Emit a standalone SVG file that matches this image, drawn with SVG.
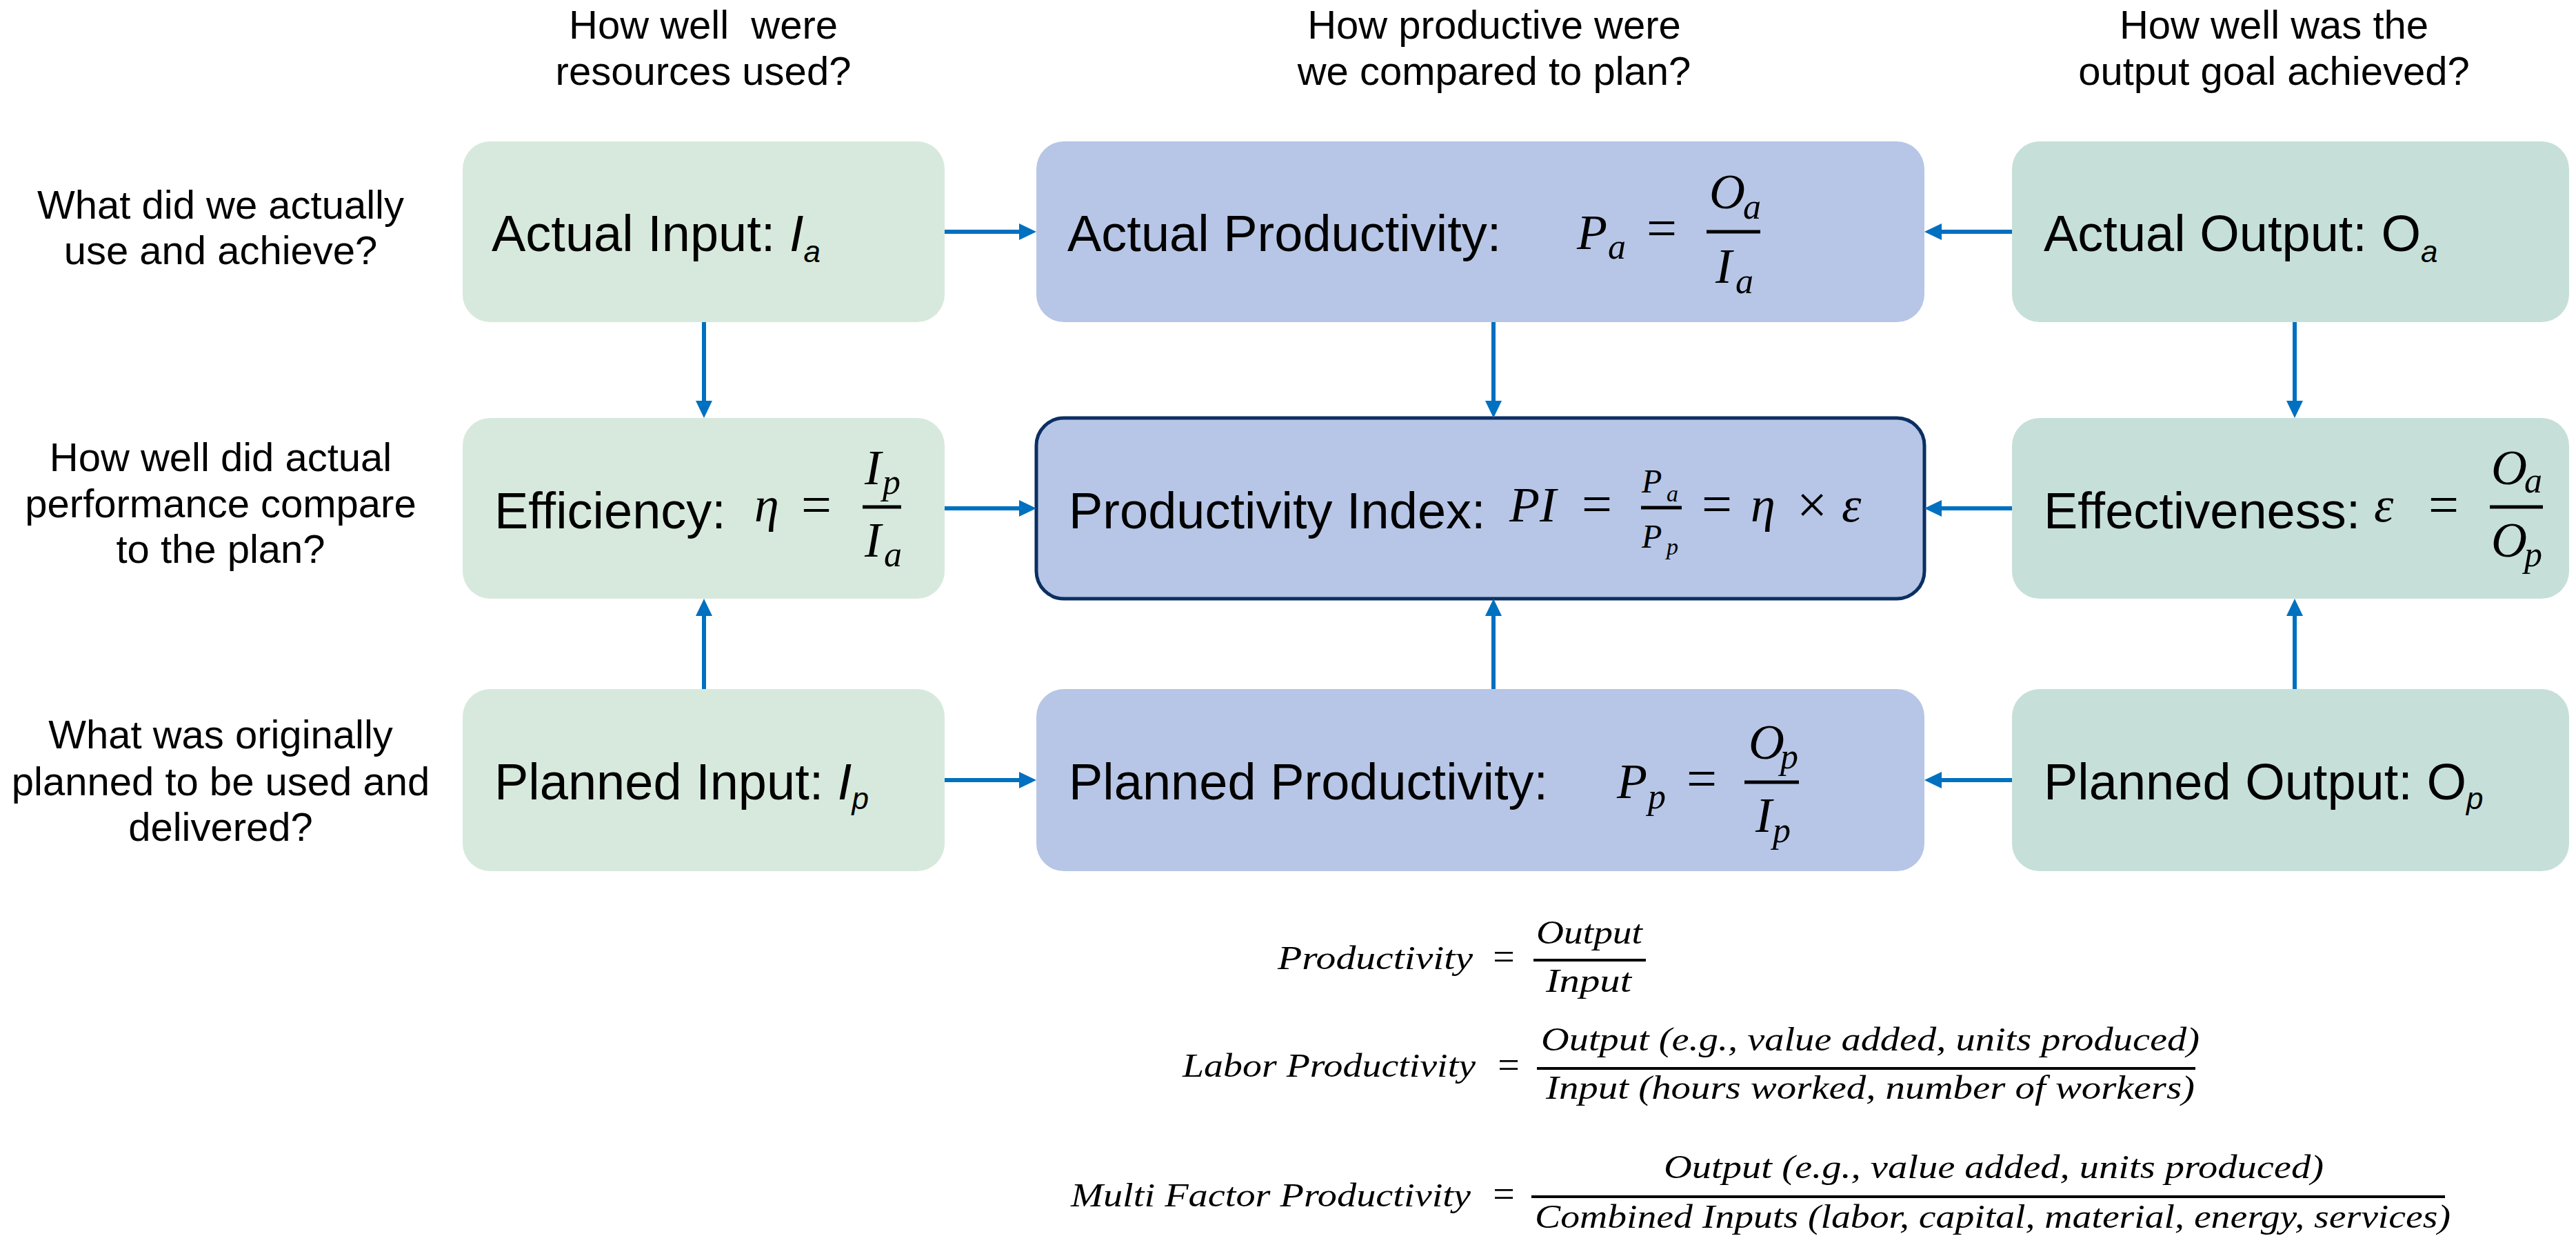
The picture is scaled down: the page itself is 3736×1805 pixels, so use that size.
<svg xmlns="http://www.w3.org/2000/svg" width="3736" height="1805" viewBox="0 0 3736 1805">
<defs>
<marker id="ah" markerUnits="userSpaceOnUse" markerWidth="25" markerHeight="24" refX="17" refY="12" orient="auto">
<path d="M0,0 L25,12 L0,24 Z" fill="#0070C0"/>
</marker>
</defs>
<style>
.bl{fill:#D7E9DD}
.bc{fill:#B7C6E6}
.br{fill:#C6E0D9}
.pi{fill:#B7C6E6;stroke:#0B2F62;stroke-width:5}
.lbl{font-family:"Liberation Sans",Arial,sans-serif;font-size:74px;fill:#000}
.sub{font-size:44px;font-style:italic}
.q{font-family:"Liberation Sans",Arial,sans-serif;font-size:58px;fill:#000;text-anchor:middle}
.m{font-family:"Liberation Serif","Times New Roman",serif;font-style:italic;font-size:72px;fill:#000}
.ms{font-family:"Liberation Serif","Times New Roman",serif;font-style:italic;font-size:52px;fill:#000}
.mf{font-family:"Liberation Serif","Times New Roman",serif;font-style:italic;font-size:48px;fill:#000}
.mfs{font-family:"Liberation Serif","Times New Roman",serif;font-style:italic;font-size:34px;fill:#000}
.eq{font-family:"Liberation Serif","Times New Roman",serif;font-size:78px;fill:#000;text-anchor:middle}
.bar{stroke:#000;stroke-width:5}
.fbar{stroke:#000;stroke-width:4}
.f{font-family:"Liberation Serif","Times New Roman",serif;font-style:italic;font-size:48px;fill:#000}
.feq{font-family:"Liberation Serif","Times New Roman",serif;font-size:56px;fill:#000;text-anchor:middle}
.conn line{stroke:#0070C0;stroke-width:6;marker-end:url(#ah)}
</style>
<rect width="3736" height="1805" fill="#FFFFFF"/>

<g id="headers">
<text class="q" x="1020" y="56" xml:space="preserve">How well  were</text>
<text class="q" x="1020" y="123">resources used?</text>
<text class="q" x="2167" y="56">How productive were</text>
<text class="q" x="2167" y="123">we compared to plan?</text>
<text class="q" x="3298" y="56">How well was the</text>
<text class="q" x="3298" y="123">output goal achieved?</text>
</g>

<g id="row-questions">
<text class="q" x="320" y="317">What did we actually</text>
<text class="q" x="320" y="383">use and achieve?</text>
<text class="q" x="320" y="683">How well did actual</text>
<text class="q" x="320" y="750">performance compare</text>
<text class="q" x="320" y="816">to the plan?</text>
<text class="q" x="320" y="1085">What was originally</text>
<text class="q" x="320" y="1153">planned to be used and</text>
<text class="q" x="320" y="1219">delivered?</text>
</g>

<g id="actual-input">
<rect class="bl" x="671" y="205" width="699" height="262" rx="40"/>
<text class="lbl" x="713" y="364">Actual Input: <tspan font-style="italic">I</tspan><tspan class="sub" dy="16">a</tspan></text>
</g>

<g id="actual-productivity">
<rect class="bc" x="1503" y="205" width="1288" height="262" rx="40"/>
<text class="lbl" x="1548" y="364">Actual Productivity:</text>
<text class="m" x="2287" y="361">P</text>
<text class="ms" x="2332" y="375">a</text>
<text class="eq" x="2410" y="357">=</text>
<line class="bar" x1="2475" y1="336" x2="2553" y2="336"/>
<text class="m" x="2479" y="302">O</text>
<text class="ms" x="2528" y="317">a</text>
<text class="m" x="2488" y="410">I</text>
<text class="ms" x="2517" y="425">a</text>
</g>

<g id="actual-output">
<rect class="br" x="2918" y="205" width="808" height="262" rx="40"/>
<text class="lbl" x="2964" y="364">Actual Output: O<tspan class="sub" dy="16">a</tspan></text>
</g>

<g id="efficiency">
<rect class="bl" x="671" y="606" width="699" height="262" rx="40"/>
<text class="lbl" x="717" y="766">Efficiency:</text>
<text class="m" x="1094" y="756">η</text>
<text class="eq" x="1184" y="758">=</text>
<line class="bar" x1="1251" y1="735" x2="1307" y2="735"/>
<text class="m" x="1254" y="702">I</text>
<text class="ms" x="1280" y="716">p</text>
<text class="m" x="1254" y="807">I</text>
<text class="ms" x="1282" y="821">a</text>
</g>

<g id="productivity-index">
<rect class="pi" x="1503" y="606" width="1288" height="262" rx="40"/>
<text class="lbl" x="1550" y="766">Productivity Index:</text>
<text class="m" x="2189" y="756">PI</text>
<text class="eq" x="2316" y="757">=</text>
<line class="bar" x1="2380" y1="736" x2="2439" y2="736"/>
<text class="mf" x="2381" y="714">P</text>
<text class="mfs" x="2417" y="727">a</text>
<text class="mf" x="2381" y="794">P</text>
<text class="mfs" x="2417" y="804">p</text>
<text class="eq" x="2490" y="757">=</text>
<text class="m" x="2539" y="756">η</text>
<text class="eq" x="2628" y="758">×</text>
<text class="m" x="2671" y="756">ε</text>
</g>

<g id="effectiveness">
<rect class="br" x="2918" y="606" width="808" height="262" rx="40"/>
<text class="lbl" x="2964" y="766">Effectiveness:</text>
<text class="m" x="3443" y="756">ε</text>
<text class="eq" x="3544" y="758">=</text>
<line class="bar" x1="3611" y1="735" x2="3688" y2="735"/>
<text class="m" x="3613" y="702">O</text>
<text class="ms" x="3661" y="714">a</text>
<text class="m" x="3613" y="807">O</text>
<text class="ms" x="3661" y="821">p</text>
</g>

<g id="planned-input">
<rect class="bl" x="671" y="999" width="699" height="264" rx="40"/>
<text class="lbl" x="717" y="1159">Planned Input: <tspan font-style="italic">I</tspan><tspan class="sub" dy="14">p</tspan></text>
</g>

<g id="planned-productivity">
<rect class="bc" x="1503" y="999" width="1288" height="264" rx="40"/>
<text class="lbl" x="1550" y="1159">Planned Productivity:</text>
<text class="m" x="2345" y="1157">P</text>
<text class="ms" x="2390" y="1172">p</text>
<text class="eq" x="2468" y="1155">=</text>
<line class="bar" x1="2530" y1="1134" x2="2609" y2="1134"/>
<text class="m" x="2536" y="1100">O</text>
<text class="ms" x="2582" y="1114">p</text>
<text class="m" x="2546" y="1206">I</text>
<text class="ms" x="2571" y="1221">p</text>
</g>

<g id="planned-output">
<rect class="br" x="2918" y="999" width="808" height="264" rx="40"/>
<text class="lbl" x="2964" y="1159">Planned Output: O<tspan class="sub" dy="14">p</tspan></text>
</g>

<g id="connectors" class="conn">
<line x1="1370" y1="336" x2="1495" y2="336"/>
<line x1="2918" y1="336" x2="2799" y2="336"/>
<line x1="1021" y1="467" x2="1021" y2="598"/>
<line x1="2166" y1="467" x2="2166" y2="598"/>
<line x1="3328" y1="467" x2="3328" y2="598"/>
<line x1="1370" y1="737" x2="1495" y2="737"/>
<line x1="2918" y1="737" x2="2799" y2="737"/>
<line x1="1021" y1="999" x2="1021" y2="876"/>
<line x1="2166" y1="999" x2="2166" y2="876"/>
<line x1="3328" y1="999" x2="3328" y2="876"/>
<line x1="1370" y1="1131" x2="1495" y2="1131"/>
<line x1="2918" y1="1131" x2="2799" y2="1131"/>
</g>

<g id="formulas">
<text class="f" x="1853" y="1405" textLength="283" lengthAdjust="spacingAndGlyphs">Productivity</text>
<text class="feq" x="2181" y="1406">=</text>
<line class="fbar" x1="2224" y1="1392" x2="2387" y2="1392"/>
<text class="f" x="2228" y="1368" textLength="154" lengthAdjust="spacingAndGlyphs">Output</text>
<text class="f" x="2242" y="1438" textLength="124" lengthAdjust="spacingAndGlyphs">Input</text>

<text class="f" x="1715" y="1561" textLength="425" lengthAdjust="spacingAndGlyphs">Labor Productivity</text>
<text class="feq" x="2188" y="1563">=</text>
<line class="fbar" x1="2229" y1="1549" x2="3184" y2="1549"/>
<text class="f" x="2235" y="1523" textLength="955" lengthAdjust="spacingAndGlyphs">Output (e.g., value added, units produced)</text>
<text class="f" x="2242" y="1593" textLength="941" lengthAdjust="spacingAndGlyphs">Input (hours worked, number of workers)</text>

<text class="f" x="1553" y="1749" textLength="580" lengthAdjust="spacingAndGlyphs">Multi Factor Productivity</text>
<text class="feq" x="2181" y="1750">=</text>
<line class="fbar" x1="2221" y1="1735" x2="3546" y2="1735"/>
<text class="f" x="2413" y="1708" textLength="957" lengthAdjust="spacingAndGlyphs">Output (e.g., value added, units produced)</text>
<text class="f" x="2226" y="1780" textLength="1328" lengthAdjust="spacingAndGlyphs">Combined Inputs (labor, capital, material, energy, services)</text>
</g>
</svg>
